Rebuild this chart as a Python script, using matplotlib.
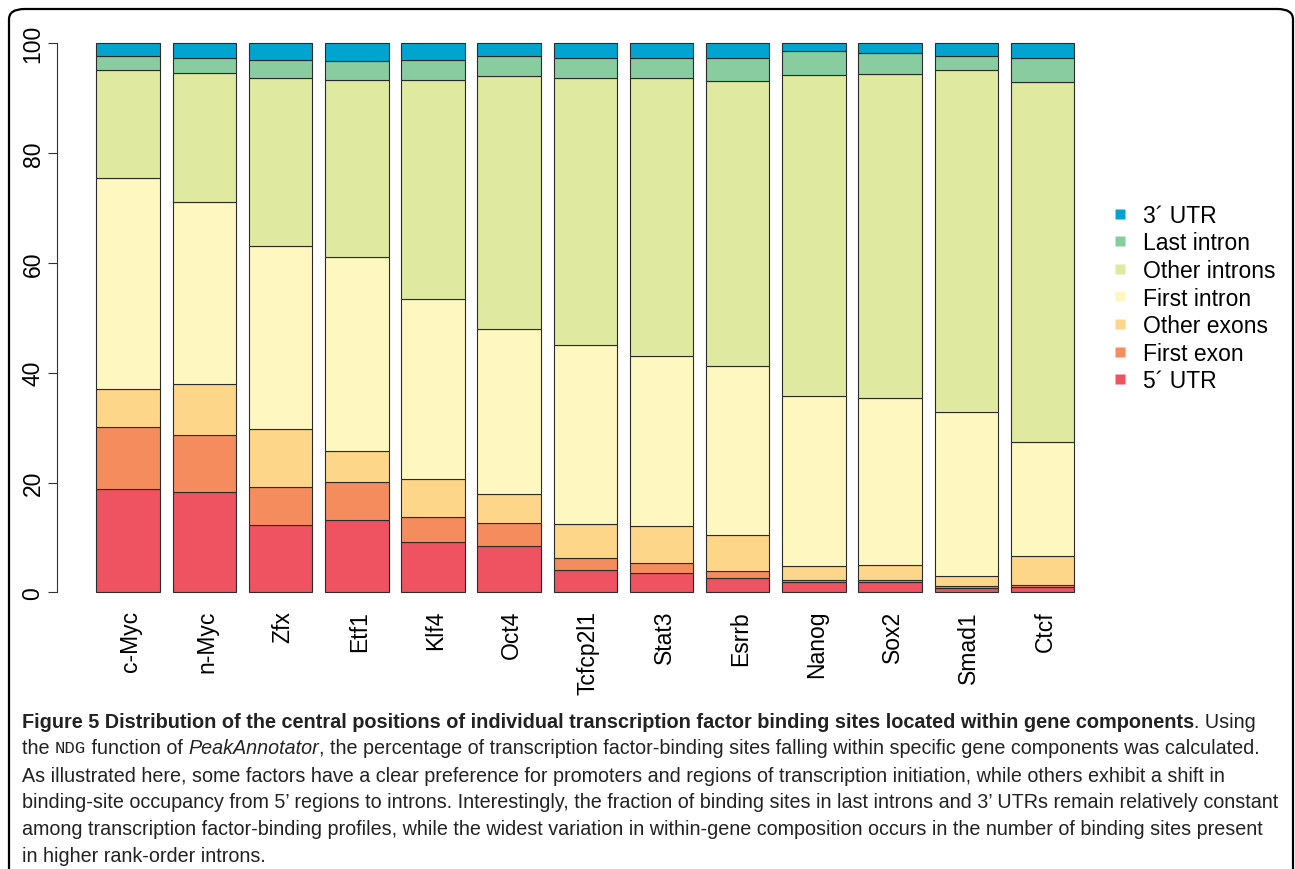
import matplotlib
matplotlib.use("Agg")
import matplotlib.pyplot as plt
from matplotlib.lines import Line2D
from matplotlib.patches import FancyBboxPatch
import numpy as np

# Percent of binding sites per gene component (bottom to top of each bar)
FACTORS = ["c-Myc", "n-Myc", "Zfx", "Etf1", "Klf4", "Oct4", "Tcfcp2l1",
           "Stat3", "Esrrb", "Nanog", "Sox2", "Smad1", "Ctcf"]

UTR5 = [18.9, 18.2, 12.2, 13.2, 9.2, 8.5, 4.1, 3.6, 2.6, 1.8, 1.8, 0.8, 0.9]
FIRST_EXON = [11.3, 10.5, 6.9, 6.9, 4.5, 4.1, 2.2, 1.8, 1.3, 0.4, 0.4, 0.3, 0.5]
OTHER_EXONS = [6.8, 9.2, 10.7, 5.6, 6.9, 5.4, 6.1, 6.6, 6.5, 2.6, 2.8, 1.9, 5.3]
FIRST_INTRON = [38.5, 33.1, 33.3, 35.3, 32.8, 30.0, 32.7, 31.0, 30.8, 31.0, 30.4, 29.8, 20.6]
OTHER_INTRONS = [19.6, 23.5, 30.5, 32.4, 40.0, 46.0, 48.6, 50.6, 52.0, 58.4, 59.0, 62.4, 65.7]
LAST_INTRON = [2.5, 2.8, 3.3, 3.4, 3.5, 3.7, 3.7, 3.7, 4.2, 4.3, 3.8, 2.4, 4.4]
UTR3 = [2.4, 2.7, 3.1, 3.2, 3.1, 2.3, 2.6, 2.7, 2.6, 1.5, 1.8, 2.4, 2.6]

COMPONENTS = ["5\u00b4 UTR", "First exon", "Other exons", "First intron",
              "Other introns", "Last intron", "3\u00b4 UTR"]
SERIES = [UTR5, FIRST_EXON, OTHER_EXONS, FIRST_INTRON, OTHER_INTRONS, LAST_INTRON, UTR3]
COLORS = ["#EF5261", "#F58C5E", "#FED68A", "#FEF8C0", "#DFE9A0", "#88CC9F", "#01A4CF"]

CAPTION = [
    [("Figure 5 Distribution of the central positions of individual transcription "
      "factor binding sites located within gene components", "bold"),
     (". Using", "normal")],
    [("the ", "normal"), ("NDG", "mono"), (" function of ", "normal"),
     ("PeakAnnotator", "italic"),
     (", the percentage of transcription factor-binding sites falling within "
      "specific gene components was calculated.", "normal")],
    [("As illustrated here, some factors have a clear preference for promoters and "
      "regions of transcription initiation, while others exhibit a shift in", "normal")],
    [("binding-site occupancy from 5\u2019 regions to introns. Interestingly, the fraction "
      "of binding sites in last introns and 3\u2019 UTRs remain relatively constant", "normal")],
    [("among transcription factor-binding profiles, while the widest variation in "
      "within-gene composition occurs in the number of binding sites present", "normal")],
    [("in higher rank-order introns.", "normal")],
]

SANS = ["Liberation Sans", "DejaVu Sans"]
CAP_FONT = ["Liberation Sans", "DejaVu Sans"]
FS = 16.5

plt.rcParams["font.family"] = SANS

W, H = 1295, 870
fig = plt.figure(figsize=(W / 100, H / 100), dpi=100)

# rounded frame around the whole figure
frame = FancyBboxPatch((9 / W, -20 / H), 1284 / W, (H - 10 + 20) / H,
                       boxstyle="round,pad=0,rounding_size=0.012",
                       transform=fig.transFigure, facecolor="none",
                       edgecolor="black", linewidth=1.6, clip_on=False)
fig.patches.append(frame)

ax = fig.add_axes([57.3 / W, 1 - 615.3 / H, 1056.1 / W, 593.0 / H])

x = 0.7 + 1.2 * np.arange(len(FACTORS))
bottom = np.zeros(len(FACTORS))
for vals, color in zip(SERIES, COLORS):
    vals = np.array(vals)
    ax.bar(x, vals, width=1.0, bottom=bottom, color=color,
           edgecolor="#2b2b2b", linewidth=0.8)
    bottom += vals

ax.set_xlim(-0.416, 16.216)
ax.set_ylim(-4, 104)
for side in ["top", "right", "bottom"]:
    ax.spines[side].set_visible(False)
ax.spines["left"].set_bounds(0, 100)
ax.spines["left"].set_linewidth(0.8)
ax.spines["left"].set_color("#333333")
ax.set_xticks([])
ax.set_yticks([0, 20, 40, 60, 80, 100])
ax.tick_params(axis="y", length=6.8, width=0.8, color="#333333", pad=2.4, labelsize=FS)
for lab in ax.get_yticklabels():
    lab.set_rotation(90)
    lab.set_verticalalignment("center")

for xi, name in zip(x, FACTORS):
    ax.text(xi + 0.04, -3.2, name, rotation=90, ha="center", va="top", fontsize=FS)

handles = [Line2D([], [], marker="s", linestyle="none", markersize=7.6,
                  markerfacecolor=c, markeredgecolor="none")
           for c in COLORS]
fig.legend(handles[::-1], COMPONENTS[::-1], loc="center left",
           bbox_to_anchor=(1111 / W, 1 - 299 / H), frameon=False,
           fontsize=FS, handlelength=0.8, handletextpad=0.6,
           labelspacing=0.2, borderpad=0, borderaxespad=0)

# caption, drawn run by run so mixed styles sit on one line
renderer = fig.canvas.get_renderer()
styles = {
    "normal": dict(family=CAP_FONT),
    "bold": dict(family=CAP_FONT, weight="bold", size=14.3),
    "italic": dict(family=CAP_FONT, style="italic"),
    "mono": dict(family=["Liberation Mono", "DejaVu Sans Mono"], size=12.5),
}
line_y = [722, 749, 776, 803, 830, 857]
for runs, y in zip(CAPTION, line_y):
    xpos = 22
    for text, kind in runs:
        props = dict(size=14.2, color="#222222")
        props.update(styles[kind])
        t = fig.text(xpos / W, 1 - y / H, text, ha="left", va="center", **props)
        bb = t.get_window_extent(renderer=renderer)
        xpos += bb.width

fig.savefig("out.png", dpi=100)
